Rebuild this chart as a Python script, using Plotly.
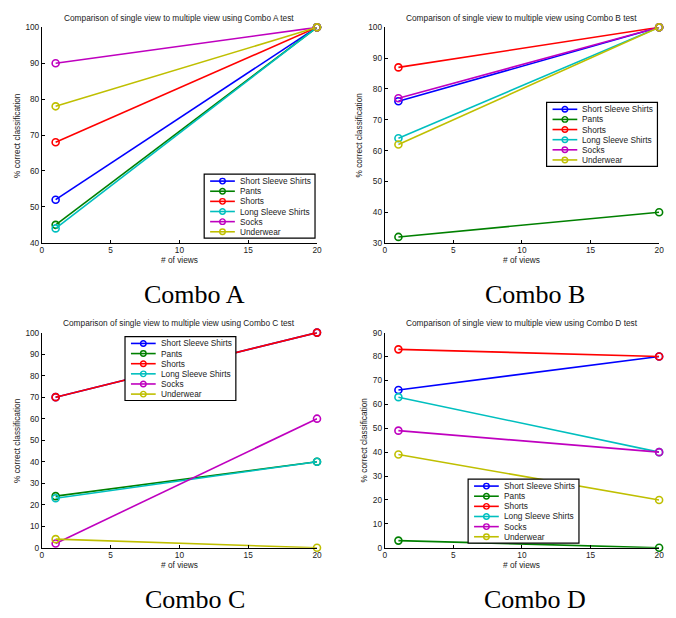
import plotly.graph_objects as go

# ---------------- data ----------------
views = [1, 20]
series_names = ["Short Sleeve Shirts", "Pants", "Shorts", "Long Sleeve Shirts", "Socks", "Underwear"]
series_colors = ["#0000ff", "#008000", "#ff0000", "#00bfbf", "#bf00bf", "#bfbf00"]

combo_a_single = [52, 45, 68, 44, 90, 78]
combo_a_multi = [100, 100, 100, 100, 100, 100]

combo_b_single = [76, 32, 87, 64, 77, 62]
combo_b_multi = [100, 40, 100, 100, 100, 100]

combo_c_single = [70, 24, 70, 23, 2, 4]
combo_c_multi = [100, 40, 100, 40, 60, 0]

combo_d_single = [66, 3, 83, 63, 49, 39]
combo_d_multi = [80, 0, 80, 40, 40, 20]

combo_labels = ["A", "B", "C", "D"]
x_ticks = [0, 5, 10, 15, 20]

# ---------------- layout helpers ----------------
W, H = 676, 618
def px(x):
    return x / W
def py(y):
    return 1 - y / H

FONT = "Liberation Sans, Arial, sans-serif"
SERIF = "Liberation Serif, Times New Roman, serif"
small = 8.3

panels = [
    dict(single=combo_a_single, multi=combo_a_multi, x0=40.3, x1=318.3, yt=22.7, yb=241.7,
         yr=[40, 100], leg=(204.3, 172.0), ylab=15, cap=(195, 294)),
    dict(single=combo_b_single, multi=combo_b_multi, x0=386.7, x1=664.0, yt=22.7, yb=242.0,
         yr=[30, 100], leg=(550.3, 99.0), ylab=361, cap=(539, 294)),
    dict(single=combo_c_single, multi=combo_c_multi, x0=40.3, x1=318.3, yt=333.0, yb=551.7,
         yr=[0, 100], leg=(124.3, 337.0), ylab=15, cap=(195, 604)),
    dict(single=combo_d_single, multi=combo_d_multi, x0=386.7, x1=664.0, yt=333.0, yb=551.7,
         yr=[0, 90], leg=(471.0, 482.0), ylab=366, cap=(539, 604)),
]

fig = go.Figure()
shapes = []
annotations = []

for i, p in enumerate(panels):
    n = "" if i == 0 else str(i + 1)
    xa, ya = "x" + n, "y" + n
    for k, name in enumerate(series_names):
        fig.add_trace(go.Scatter(
            x=views, y=[p["single"][k], p["multi"][k]],
            mode="lines+markers", name=name, showlegend=False,
            line=dict(color=series_colors[k], width=1.6),
            marker=dict(symbol="circle-open", size=7, color=series_colors[k],
                        line=dict(width=1.6, color=series_colors[k])),
            cliponaxis=False, xaxis=xa, yaxis=ya,
        ))
    axis_common = dict(showline=True, linecolor="black", linewidth=1, ticks="inside",
                       ticklen=3, tickcolor="black", showgrid=False, zeroline=False,
                       tickfont=dict(family=FONT, size=small, color="#222"))
    fig.layout["xaxis" + n] = dict(axis_common, domain=[px(p["x0"]), px(p["x1"])],
                                   range=[0, 20], tickvals=x_ticks, anchor=ya,
                                   ticklabelstandoff=-1)
    yt = list(range(p["yr"][0], p["yr"][1] + 1, 10))
    fig.layout["yaxis" + n] = dict(axis_common, domain=[py(p["yb"]), py(p["yt"])],
                                   range=p["yr"], tickvals=yt, anchor=xa)

    cx = (p["x0"] + p["x1"]) / 2
    annotations.append(dict(x=px(cx), y=py(p["yt"] - 9.5), xref="paper", yref="paper",
                            text=f"Comparison of single view to multiple view using Combo {combo_labels[i]} test",
                            showarrow=False, xanchor="center", yanchor="middle",
                            font=dict(family=FONT, size=small, color="#222")))
    annotations.append(dict(x=px(cx), y=py(p["yb"] + 17.5), xref="paper", yref="paper",
                            text="# of views", showarrow=False, xanchor="center", yanchor="middle",
                            font=dict(family=FONT, size=small, color="#222")))
    annotations.append(dict(x=px(p["ylab"]), y=py((p["yt"] + p["yb"]) / 2), xref="paper", yref="paper",
                            text="% correct classification", showarrow=False, textangle=-90,
                            xanchor="center", yanchor="middle",
                            font=dict(family=FONT, size=small, color="#222")))
    annotations.append(dict(x=px(p["cap"][0]), y=py(p["cap"][1]), xref="paper", yref="paper",
                            text=f"Combo {combo_labels[i]}", showarrow=False,
                            xanchor="center", yanchor="middle",
                            font=dict(family=SERIF, size=26, color="black")))

    # legend box (drawn as layout decoration)
    lx, ly = p["leg"]
    lw, lh = 112, 65
    shapes.append(dict(type="rect", xref="paper", yref="paper",
                       x0=px(lx), x1=px(lx + lw), y0=py(ly + lh), y1=py(ly),
                       fillcolor="white", line=dict(color="black", width=1.2), layer="above"))
    for k, name in enumerate(series_names):
        yc = ly + 7 + k * 10.3
        shapes.append(dict(type="line", xref="paper", yref="paper",
                           x0=px(lx + 6), x1=px(lx + 31), y0=py(yc), y1=py(yc),
                           line=dict(color=series_colors[k], width=1.6), layer="above"))
        r = 2.8
        shapes.append(dict(type="circle", xref="paper", yref="paper",
                           x0=px(lx + 18.5 - r), x1=px(lx + 18.5 + r),
                           y0=py(yc + r), y1=py(yc - r),
                           line=dict(color=series_colors[k], width=1.4),
                           fillcolor="rgba(0,0,0,0)", layer="above"))
        annotations.append(dict(x=px(lx + 34), y=py(yc), xref="paper", yref="paper",
                                text=name, showarrow=False, xanchor="left", yanchor="middle",
                                font=dict(family=FONT, size=small, color="#222")))

fig.update_layout(
    width=W, height=H, margin=dict(l=0, r=0, t=0, b=0),
    paper_bgcolor="white", plot_bgcolor="white",
    showlegend=False, shapes=shapes, annotations=annotations,
)

fig.write_html("out.html", config={"displayModeBar": False},
               post_script="document.body.style.margin='0';document.body.style.overflow='hidden';")
